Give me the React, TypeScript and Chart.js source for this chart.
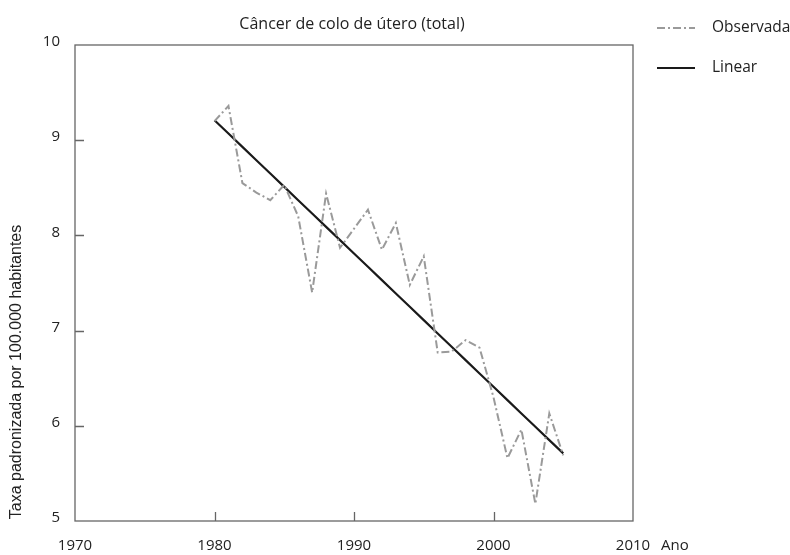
import React, { useEffect, useRef } from "react";
import { Chart, registerables } from "chart.js";

Chart.register(...registerables);

const years = [1980, 1981, 1982, 1983, 1984, 1985, 1986, 1987, 1988, 1989, 1990, 1991, 1992, 1993, 1994, 1995, 1996, 1997, 1998, 1999, 2000, 2001, 2002, 2003, 2004, 2005];
const observed = [9.2, 9.36, 8.55, 8.45, 8.37, 8.53, 8.2, 7.4, 8.44, 7.87, 8.07, 8.27, 7.85, 8.13, 7.48, 7.78, 6.77, 6.78, 6.9, 6.82, 6.3, 5.66, 5.96, 5.18, 6.13, 5.69];
const linearFit = [9.21, 9.07, 8.93, 8.79, 8.65, 8.51, 8.37, 8.23, 8.09, 7.95, 7.81, 7.67, 7.53, 7.39, 7.25, 7.11, 6.97, 6.83, 6.69, 6.55, 6.41, 6.27, 6.13, 5.99, 5.85, 5.71];
const xTicks = [1970, 1980, 1990, 2000, 2010];
const yTicks = [5, 6, 7, 8, 9, 10];
const chartTitle = "Câncer de colo de útero (total)";
const yAxisTitle = "Taxa padronizada por 100.000 habitantes";
const xAxisTitle = "Ano";
const seriesNames = ["Observada", "Linear"];

const OBS_COLOR = "#9a9a9a";
const LIN_COLOR = "#1a1a1a";
const AXIS_COLOR = "#666666";
const TEXT_COLOR = "#222222";
const OBS_DASH = [8, 3, 2, 3];
const SANS = "'Open Sans', Lato, sans-serif";

const decorPlugin = {
  id: "decor",
  afterDraw(chart: any) {
    const ctx = chart.ctx as CanvasRenderingContext2D;
    const { left, right, top, bottom } = chart.chartArea;
    const xs = chart.scales.x;
    const ys = chart.scales.y;
    ctx.save();
    // frame
    ctx.strokeStyle = AXIS_COLOR;
    ctx.lineWidth = 1.3;
    ctx.setLineDash([]);
    ctx.strokeRect(left, top, right - left, bottom - top);
    // inner ticks
    const tickLen = 9;
    ctx.beginPath();
    xTicks.slice(1, -1).forEach((v) => {
      const px = Math.round(xs.getPixelForValue(v)) + 0.5;
      ctx.moveTo(px, bottom);
      ctx.lineTo(px, bottom - tickLen);
    });
    yTicks.slice(1, -1).forEach((v) => {
      const py = Math.round(ys.getPixelForValue(v)) + 0.5;
      ctx.moveTo(left, py);
      ctx.lineTo(left + tickLen, py);
    });
    ctx.stroke();

    // title
    ctx.fillStyle = TEXT_COLOR;
    ctx.font = "16px " + SANS;
    ctx.textAlign = "center";
    ctx.textBaseline = "middle";
    ctx.fillText(chartTitle, 352, 24);

    // x axis title
    ctx.font = "15px " + SANS;
    ctx.textAlign = "left";
    ctx.fillText(xAxisTitle, 661, 546);

    // y axis title
    ctx.save();
    ctx.translate(17, 372);
    ctx.rotate(-Math.PI / 2);
    ctx.font = "16px 'Liberation Sans', Arial, sans-serif";
    ctx.textAlign = "center";
    ctx.textBaseline = "middle";
    ctx.fillText(yAxisTitle, 0, 0);
    ctx.restore();

    // legend
    const legendY = [28, 68];
    const styles = [
      { color: OBS_COLOR, dash: OBS_DASH },
      { color: LIN_COLOR, dash: [] as number[] },
    ];
    legendY.forEach((ly, i) => {
      ctx.beginPath();
      ctx.strokeStyle = styles[i].color;
      ctx.lineWidth = 2;
      ctx.setLineDash(styles[i].dash);
      ctx.moveTo(657, ly);
      ctx.lineTo(695, ly);
      ctx.stroke();
      ctx.setLineDash([]);
      ctx.fillStyle = TEXT_COLOR;
      ctx.font = "15.5px " + SANS;
      ctx.textAlign = "left";
      ctx.textBaseline = "middle";
      ctx.fillText(seriesNames[i], 712, ly);
    });
    ctx.restore();
  },
};

export default function App() {
  const canvasRef = useRef<HTMLCanvasElement | null>(null);

  useEffect(() => {
    document.body.style.margin = "0";
    const canvas = canvasRef.current;
    if (!canvas) return;
    const chart = new Chart(canvas, {
      type: "line",
      data: {
        datasets: [
          {
            label: seriesNames[0],
            data: years.map((y, i) => ({ x: y, y: observed[i] })),
            borderColor: OBS_COLOR,
            borderWidth: 2,
            borderDash: OBS_DASH,
            pointRadius: 0,
            tension: 0,
            fill: false,
          },
          {
            label: seriesNames[1],
            data: years.map((y, i) => ({ x: y, y: linearFit[i] })),
            borderColor: LIN_COLOR,
            borderWidth: 2.2,
            pointRadius: 0,
            tension: 0,
            fill: false,
          },
        ],
      },
      options: {
        responsive: false,
        animation: false,
        devicePixelRatio: 1,
        layout: { padding: { left: 0, top: 45, right: 157, bottom: 0 } },
        plugins: {
          legend: { display: false },
          title: { display: false },
          tooltip: { enabled: false },
        },
        scales: {
          x: {
            type: "linear",
            min: 1970,
            max: 2010,
            afterBuildTicks: (s: any) => {
              s.ticks = xTicks.map((v) => ({ value: v }));
            },
            afterFit: (s: any) => {
              s.height = 34;
            },
            grid: { display: false, drawTicks: false },
            border: { display: false },
            ticks: {
              color: TEXT_COLOR,
              font: { family: SANS, size: 15 },
              padding: 16,
              maxRotation: 0,
              autoSkip: false,
              callback: (v: any) => String(v),
            },
          },
          y: {
            type: "linear",
            min: 5,
            max: 10,
            afterBuildTicks: (s: any) => {
              s.ticks = yTicks.map((v) => ({ value: v }));
            },
            afterFit: (s: any) => {
              s.width = 75;
            },
            grid: { display: false, drawTicks: false },
            border: { display: false },
            ticks: {
              color: TEXT_COLOR,
              font: { family: SANS, size: 15 },
              padding: 15,
              labelOffset: -3,
              autoSkip: false,
              callback: (v: any) => String(v),
            },
          },
        },
      },
      plugins: [decorPlugin],
    } as any);
    return () => chart.destroy();
  }, []);

  return <canvas ref={canvasRef} width={790} height={555} style={{ display: "block" }} />;
}
